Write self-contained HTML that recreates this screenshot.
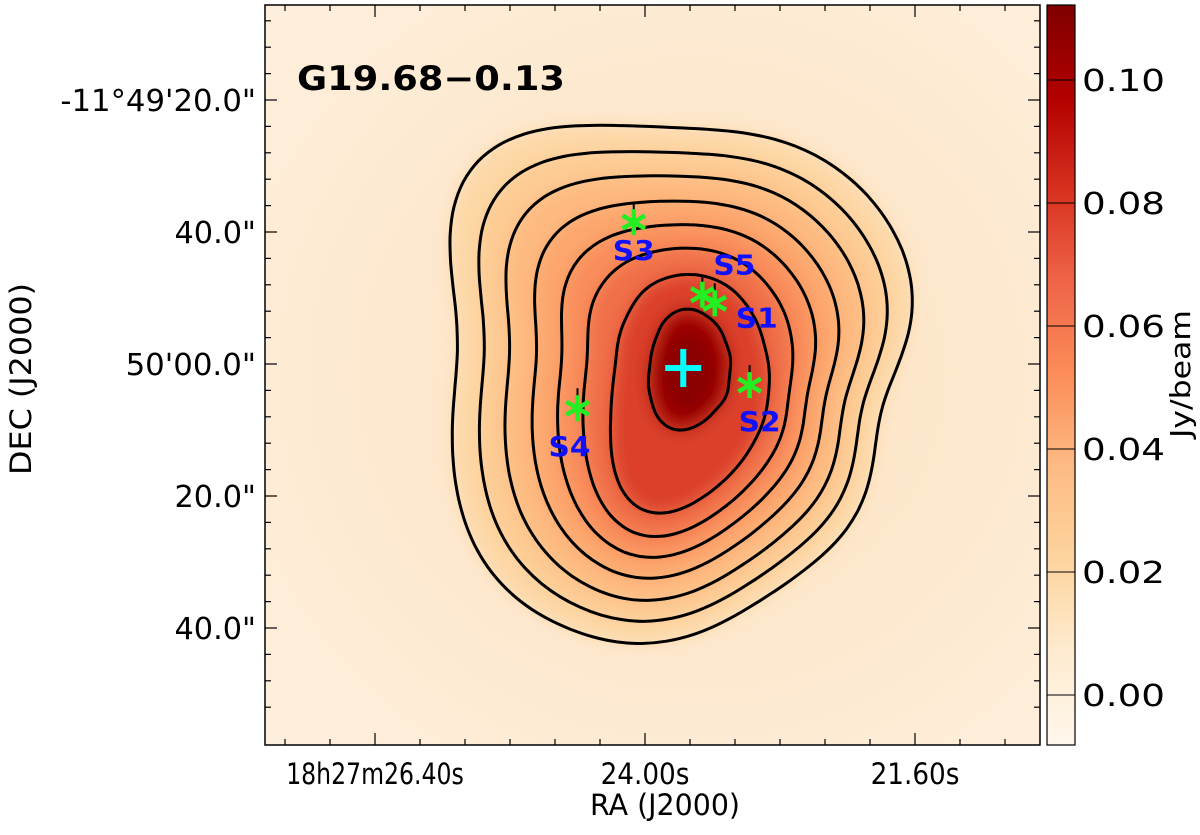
<!DOCTYPE html>
<html><head><meta charset="utf-8"><style>
html,body{margin:0;padding:0;background:#fff;}
svg text{font-family:"DejaVu Sans","Liberation Sans",sans-serif;}
</style></head><body>
<svg id="fig" width="1200" height="830" viewBox="0 0 1200 830" xmlns="http://www.w3.org/2000/svg">
<defs>
<radialGradient id="bg" cx="0.55" cy="0.5" r="0.7">
<stop offset="0" stop-color="#fde2c0"/><stop offset="0.6" stop-color="#fde9d0"/><stop offset="1" stop-color="#feefdc"/>
</radialGradient>
<linearGradient id="cbar" x1="0" y1="1" x2="0" y2="0">
<stop offset="0" stop-color="#fff7ec"/>
<stop offset="0.125" stop-color="#feebd0"/>
<stop offset="0.25" stop-color="#fdd49e"/>
<stop offset="0.375" stop-color="#fdbb84"/>
<stop offset="0.5" stop-color="#fc8d59"/>
<stop offset="0.625" stop-color="#ef6548"/>
<stop offset="0.75" stop-color="#d7301f"/>
<stop offset="0.875" stop-color="#b30000"/>
<stop offset="1" stop-color="#7f0000"/>
</linearGradient>
<filter id="blur" x="-20%" y="-20%" width="140%" height="140%"><feGaussianBlur stdDeviation="8"/></filter>
<clipPath id="plotclip"><rect x="265" y="5" width="775" height="740"/></clipPath>
</defs>
<rect x="265" y="5" width="775" height="740" fill="url(#bg)"/>
<g id="fills" clip-path="url(#plotclip)" filter="url(#blur)"></g>
<g id="contours"></g>
<g id="ticks"></g>
<rect x="265" y="5" width="775" height="740" fill="none" stroke="#000" stroke-width="1.5"/>
<g id="sources"></g>
<text x="297" y="90" font-size="34" font-weight="bold" textLength="268" lengthAdjust="spacingAndGlyphs">G19.68−0.13</text>
<text x="0" y="0" font-size="29" text-anchor="middle" textLength="192" lengthAdjust="spacingAndGlyphs" transform="translate(31,379) rotate(-90)">DEC (J2000)</text>
<text x="665" y="815" font-size="29" text-anchor="middle" textLength="150" lengthAdjust="spacingAndGlyphs">RA (J2000)</text>
<rect x="1047" y="5" width="28" height="740" fill="url(#cbar)" stroke="#000" stroke-width="1.2"/>
<g id="cbticks"></g>
<text x="0" y="0" font-size="28" text-anchor="middle" textLength="128" lengthAdjust="spacingAndGlyphs" transform="translate(1190,374) rotate(-90)">Jy/beam</text>
</svg>
<script>
// ---- data ----
const decTickValues = [20, 40, 60, 80, 100]; // arcsec past -11°49'00"
const decTickLabels = ["-11°49'20.0\"", "40.0\"", "50'00.0\"", "20.0\"", "40.0\""];
const raTickValues = [26.40, 24.00, 21.60]; // seconds of 18h27m
const raTickLabels = ["18h27m26.40s", "24.00s", "21.60s"];
const cbTickValues = [0.00, 0.02, 0.04, 0.06, 0.08, 0.10];
const cbTickLabels = ["0.00", "0.02", "0.04", "0.06", "0.08", "0.10"];
const srcNames = ["S1", "S2", "S3", "S4", "S5"];
const srcRA = [23.38, 23.07, 24.10, 24.60, 23.49];
const srcDec = [50.8, 63.2, 38.5, 66.7, 49.5];
const peakRA = [23.66];
const peakDec = [60.6];

// ---- axes ----
const NS = "http://www.w3.org/2000/svg";
function xOf(ra){ return 645 - (ra - 24.00) * 112.5; }
function yOf(d){ return 100 + (d - 20) * 6.6; }
function cbY(v){ return 695 - v * 6150; }
function mk(tag, attrs, parent){ const e = document.createElementNS(NS, tag); for (const k in attrs) e.setAttribute(k, attrs[k]); parent.appendChild(e); return e; }
function charW(s, w){ return s.length * w; }

const ticks = document.getElementById('ticks');
for (let d = 8; d <= 112; d += 4) {
  const y = yOf(d); if (y < 6 || y > 744) continue;
  const major = decTickValues.includes(d);
  const L = major ? 12 : 6;
  const t1 = mk('line', {x1:265, y1:y, x2:265+L, y2:y, stroke:'#000', 'stroke-width':1.2}, ticks);
  
  
  const t2 = mk('line', {x1:1040, y1:y, x2:1040-L, y2:y, stroke:'#000', 'stroke-width':1.2}, ticks);
  
  
}
decTickValues.forEach((d, i) => {
  const s = decTickLabels[i];
  const t = mk('text', {x:256, y:yOf(d)+11, 'font-size':30, 'text-anchor':'end', textLength:charW(s,16.3), lengthAdjust:'spacingAndGlyphs'}, ticks);
  t.textContent = s;
  
  
});
for (let k = -30; k <= 30; k++) {
  const ra = 24.00 + k * 0.4; const x = xOf(ra);
  if (x < 266 || x > 1039) continue;
  const major = raTickValues.some(v => Math.abs(v - ra) < 1e-6);
  const L = major ? 12 : 6;
  const t1 = mk('line', {x1:x, y1:745, x2:x, y2:745-L, stroke:'#000', 'stroke-width':1.2}, ticks);
  
  
  const t2 = mk('line', {x1:x, y1:5, x2:x, y2:5+L, stroke:'#000', 'stroke-width':1.2}, ticks);
  
  
}
raTickValues.forEach((v, i) => {
  const s = raTickLabels[i];
  const t = mk('text', {x:xOf(v), y:784, 'font-size':29, 'text-anchor':'middle', textLength:charW(s,14.8), lengthAdjust:'spacingAndGlyphs'}, ticks);
  t.textContent = s;
  
  
});
const cbt = document.getElementById('cbticks');
cbTickValues.forEach((v, i) => {
  const y = cbY(v);
  const l = mk('line', {x1:1047, y1:y, x2:1075, y2:y, stroke:'#000', 'stroke-width':1}, cbt);
  
  
  const t = mk('text', {x:1082, y:y+11, 'font-size':30, textLength:83, lengthAdjust:'spacingAndGlyphs'}, cbt);
  t.textContent = cbTickLabels[i];
  
  
});

// ---- contour shapes ----
const C = [690, 372];
const outerPoly = [[530,130],[600,127],[670,130],[763,134],[830,160],[880,207],[910,262],[916,315],[902,355],[880,392],[873,440],[871,480],[855,525],[810,565],[740,612],[665,648],[597,640],[530,612],[482,569],[458,503],[452,430],[458,380],[464,330],[452,262],[448,205],[462,162],[495,138]];
const midPoly = [[690,272],[730,285],[757,320],[770,370],[765,420],[740,465],[700,500],[655,520],[625,505],[612,460],[612,400],[620,330],[645,285]];
const innerPoly = [[690,306],[718,324],[731,357],[727,397],[703,423],[677,433],[657,419],[648,386],[652,350],[665,317]];
function rayR(poly, a){
  const dx = Math.cos(a), dy = Math.sin(a); let best = 0;
  for (let i = 0; i < poly.length; i++) {
    const p = poly[i], q = poly[(i+1) % poly.length];
    const ex = q[0]-p[0], ey = q[1]-p[1];
    const den = dx*ey - dy*ex; if (Math.abs(den) < 1e-9) continue;
    const wx = p[0]-C[0], wy = p[1]-C[1];
    const t = (wx*ey - wy*ex) / den, u = (wx*dy - wy*dx) / den;
    if (t > 0 && u >= 0 && u <= 1) best = Math.max(best, t);
  }
  return best;
}
function smooth(rs, w){
  const n = rs.length, out = [];
  for (let i = 0; i < n; i++) { let s = 0; for (let j = -w; j <= w; j++) s += rs[(i+j+n)%n]; out.push(s/(2*w+1)); }
  return out;
}
const N = 72;
let rO = [], rM = [], rI = [];
for (let i = 0; i < N; i++) { const a = i/N*2*Math.PI; rO.push(rayR(outerPoly,a)); rM.push(rayR(midPoly,a)); rI.push(rayR(innerPoly,a)); }
rO = smooth(smooth(rO,2),1); rM = smooth(smooth(rM,2),1); rI = smooth(smooth(rI,2),1);
function pathFor(rs){
  const pts = rs.map((r,i) => { const a = i/N*2*Math.PI; return [C[0]+r*Math.cos(a), C[1]+r*Math.sin(a)]; });
  let d = 'M' + pts[0][0].toFixed(1) + ',' + pts[0][1].toFixed(1);
  const n = pts.length;
  for (let i = 0; i < n; i++) {
    const p0 = pts[(i-1+n)%n], p1 = pts[i], p2 = pts[(i+1)%n], p3 = pts[(i+2)%n];
    const c1 = [p1[0]+(p2[0]-p0[0])/6, p1[1]+(p2[1]-p0[1])/6];
    const c2 = [p2[0]-(p3[0]-p1[0])/6, p2[1]-(p3[1]-p1[1])/6];
    d += 'C'+c1[0].toFixed(1)+','+c1[1].toFixed(1)+' '+c2[0].toFixed(1)+','+c2[1].toFixed(1)+' '+p2[0].toFixed(1)+','+p2[1].toFixed(1);
  }
  return d + 'Z';
}
const outerT = [0, 0.17, 0.33, 0.5, 0.66, 0.82];
const levels = outerT.map(t => rO.map((r,i) => r*(1-t) + rM[i]*t));
levels.push(rM.slice());
levels.push(rI.slice());
const fillColors = ['#fdd7a6','#fdca93','#fdba80','#fca66d','#f98e5c','#f07049','#dc3f2c','#a30303'];
const fills = document.getElementById('fills');
const cont = document.getElementById('contours');
levels.forEach((rs, k) => {
  const f = mk('path', {d:pathFor(rs), fill:fillColors[k]}, fills);
  
  
});
const core = mk('ellipse', {cx:688, cy:372, rx:28, ry:42, fill:'#8b0000'}, fills);


levels.forEach((rs, k) => {
  const c = mk('path', {d:pathFor(rs), fill:'none', stroke:'#000', 'stroke-width':3}, cont);
  
  
});

// ---- sources ----
const sg = document.getElementById('sources');
const labelOff = {S1:[42,24], S2:[10,46], S3:[0,38], S4:[-8,48], S5:[32,-20]};
srcNames.forEach((nm, i) => {
  const x = xOf(srcRA[i]), y = yOf(srcDec[i]);
  const g = mk('g', {}, sg);
  
  
  mk('line', {x1:x, y1:y-20, x2:x, y2:y-8, stroke:'#000', 'stroke-width':2}, g);
  [90, 30, 150].forEach(a => {
    const r = 13, rad = a*Math.PI/180;
    mk('line', {x1:x - r*Math.cos(rad), y1:y - r*Math.sin(rad), x2:x + r*Math.cos(rad), y2:y + r*Math.sin(rad), stroke:'#22ee22', 'stroke-width':4.5}, g);
  });
  const t = mk('text', {x:x + labelOff[nm][0], y:y + labelOff[nm][1], 'font-size':28, 'font-weight':'bold', fill:'#1010ff', 'text-anchor':'middle', textLength:42, lengthAdjust:'spacingAndGlyphs'}, g);
  t.textContent = nm;
  
  
});
const px = xOf(peakRA[0]), py = yOf(peakDec[0]);
const pk = mk('g', {}, sg);


mk('line', {x1:px-18, y1:py, x2:px+18, y2:py, stroke:'#00ffff', 'stroke-width':6}, pk);
mk('line', {x1:px, y1:py-19, x2:px, y2:py+19, stroke:'#00ffff', 'stroke-width':6}, pk);
</script>
</body></html>
